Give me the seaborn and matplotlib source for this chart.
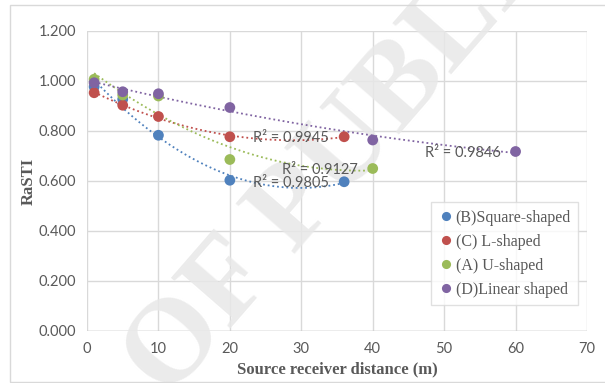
import numpy as np
import pandas as pd
import matplotlib
matplotlib.use("Agg")
import matplotlib.pyplot as plt
from matplotlib.patches import Rectangle
import seaborn as sns

# data
series_names = ["(B)Square-shaped", "(C) L-shaped", "(A) U-shaped", "(D)Linear shaped"]
square_x = [1, 5, 10, 20, 36]
square_y = [0.977, 0.927, 0.783, 0.603, 0.597]
l_x = [1, 5, 10, 20, 36]
l_y = [0.953, 0.903, 0.858, 0.777, 0.777]
u_x = [1, 5, 10, 20, 40]
u_y = [1.007, 0.944, 0.940, 0.686, 0.650]
linear_x = [1, 5, 10, 20, 40, 60]
linear_y = [0.993, 0.957, 0.949, 0.894, 0.764, 0.718]
r2_labels = ["R² = 0.9805", "R² = 0.9945", "R² = 0.9127", "R² = 0.9846"]
r2_pos = [(23.2, 0.592), (23.2, 0.772), (27.3, 0.644), (47.3, 0.712)]

colors = ["#4F81BD", "#C0504D", "#9BBB59", "#8064A2"]
xs = [square_x, l_x, u_x, linear_x]
ys = [square_y, l_y, u_y, linear_y]

df = pd.concat([pd.DataFrame({"distance": x, "rasti": y, "layout": n})
                for x, y, n in zip(xs, ys, series_names)], ignore_index=True)

sns.set_style("white")
fig = plt.figure(figsize=(6.05, 3.83), dpi=100)
ax = fig.add_axes([87 / 605, 1 - 331 / 383, 500 / 605, 300 / 383])

# chart area border
fig.patches.append(Rectangle((10 / 605, 1 / 383), 600 / 605, 377 / 383,
                             transform=fig.transFigure, fill=False,
                             edgecolor="#D9D9D9", lw=1.0))

# watermark, behind the markers but over the grid
ax.text(168 / 605, 1 - 400 / 383, "OF PUBLI", rotation=49,
        rotation_mode="anchor", ha="left", va="baseline",
        transform=fig.transFigure, clip_on=False,
        family="Liberation Serif", fontweight="bold", fontsize=86,
        color="#E8E8E8", alpha=0.85, zorder=1.5)

# polynomial (order 2) trendlines
for x, y, c in zip(xs, ys, colors):
    coef = np.polyfit(x, y, 2)
    xx = np.linspace(min(x), max(x), 200)
    ax.plot(xx, np.polyval(coef, xx), color=c, lw=1.3,
            linestyle=(0, (1, 1.6)), zorder=2)

sns.scatterplot(data=df, x="distance", y="rasti", hue="layout",
                hue_order=series_names, palette=colors, s=60,
                edgecolor="none", ax=ax, zorder=3)

for lab, (px, py) in zip(r2_labels, r2_pos):
    ax.text(px, py, lab, ha="left", va="center", fontsize=10.5,
            family="Lato", color="#595959", zorder=4)

ax.set_xlim(0, 70)
ax.set_ylim(0, 1.2)
ax.set_xticks(range(0, 71, 10))
ax.set_yticks(np.arange(0, 1.21, 0.2))
ax.set_yticklabels([f"{v:.3f}" for v in np.arange(0, 1.21, 0.2)])
ax.grid(True, color="#D9D9D9", lw=1.0)
ax.set_axisbelow(True)
for s in ax.spines.values():
    s.set_visible(False)
ax.axhline(0, color="#BFBFBF", lw=1.0, zorder=1)
ax.tick_params(length=0, labelsize=10.5, labelcolor="#595959", pad=8)
for lbl in ax.get_xticklabels() + ax.get_yticklabels():
    lbl.set_family("Lato")

ax.set_xlabel("Source receiver distance (m)", family="Liberation Serif",
              fontweight="bold", fontsize=12, color="#595959", labelpad=4)
ax.set_ylabel("RaSTI", family="Liberation Serif", fontweight="bold",
              fontsize=12, color="#595959", labelpad=1)

leg = ax.legend(loc="upper left", bbox_to_anchor=(0.672, 0.455),
                frameon=True, fancybox=False, edgecolor="#D9D9D9",
                prop={"family": "Liberation Serif", "size": 11.5},
                labelcolor="#595959", markerscale=0.85, handletextpad=0.1,
                handlelength=1.0, borderpad=0.45, labelspacing=0.5)
leg.get_frame().set_linewidth(1.0)
leg.set_zorder(5)

fig.savefig("out.png", dpi=100)
